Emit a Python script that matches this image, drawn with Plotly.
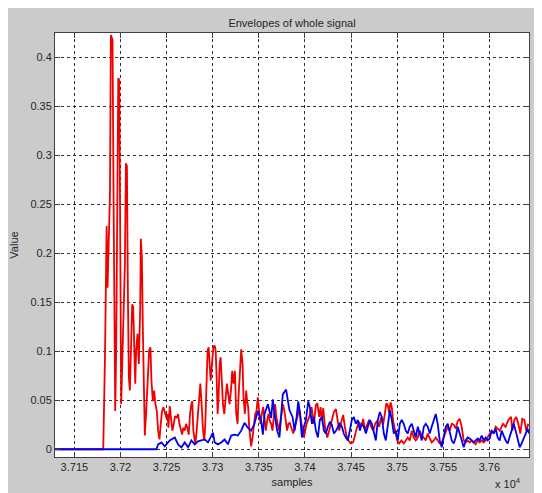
import plotly.graph_objects as go

# ---- data (samples, envelope value) ----
red_x = [37129, 37181.3, 37183.2, 37185.0, 37186.0, 37187.5, 37188.6, 37189.6, 37191.4, 37192.5,
         37193.3, 37194.3, 37195.4, 37196.5, 37197.6, 37198.7, 37199.7, 37200.8, 37201.9, 37203.3,
         37204.8, 37205.9, 37207.0, 37208.0, 37209.1, 37210.2, 37211.3, 37212.7, 37213.8, 37214.9,
         37216.0, 37217.0, 37218.5, 37219.9, 37221.4, 37222.1, 37223.2, 37224.3, 37225.4, 37226.4,
         37227.9, 37229.3, 37231.1, 37232.5, 37233.6, 37235.1, 37236.5, 37237.9, 37239.4, 37240.8,
         37242.3, 37243.7, 37245.1, 37246.6, 37248.0, 37249.8, 37250.9, 37252.0, 37253.4, 37254.9,
         37256.3, 37257.8, 37259.2, 37261.0, 37262.5, 37263.9, 37265.3, 37266.8, 37268.2, 37269.7,
         37271.1, 37272.5, 37274.0, 37275.4, 37276.9, 37277.9, 37279.0, 37280.1, 37281.2, 37282.6,
         37284.1, 37285.5, 37286.6, 37288.0, 37289.5, 37290.9, 37292.0, 37293.4, 37294.5, 37295.6,
         37296.7, 37297.8, 37299.2, 37300.7, 37302.1, 37303.2, 37304.3, 37305.3, 37306.4, 37307.5,
         37308.6, 37309.7, 37311.1, 37312.6, 37314.0, 37315.4, 37316.9, 37318.3, 37319.8, 37321.2,
         37322.6, 37324.1, 37325.5, 37327.0, 37328.0, 37329.5, 37330.9, 37332.4, 37333.4, 37334.9,
         37336.3, 37337.4, 37338.5, 37339.6, 37340.7, 37341.7, 37343.2, 37344.6, 37346.1, 37347.5,
         37348.9, 37350.4, 37351.8, 37353.3, 37354.7, 37356.2, 37357.6, 37359.0, 37360.5, 37361.9,
         37363.4, 37364.8, 37366.3, 37367.7, 37369.1, 37370.6, 37372.0, 37373.5, 37374.9, 37376.3,
         37377.8, 37379.2, 37380.7, 37382.1, 37383.6, 37387.4, 37391.0, 37393.9, 37396.4, 37398.9,
         37401.8, 37404.7, 37407.2, 37409.7, 37411.9, 37413.4, 37415.5, 37417.0, 37418.4, 37419.9,
         37421.7, 37424.2, 37426.3, 37428.9, 37431.4, 37433.6, 37435.4, 37437.2, 37439.7, 37441.5,
         37443.3, 37445.1, 37447.3, 37449.5, 37452.3, 37454.5, 37456.7, 37458.8, 37461.0, 37463.2,
         37465.3, 37467.5, 37469.7, 37471.8, 37474.0, 37476.2, 37478.3, 37480.5, 37482.7, 37484.8,
         37487.0, 37488.4, 37489.9, 37491.3, 37492.8, 37494.2, 37495.7, 37497.8, 37500.0, 37502.2,
         37504.7, 37507.2, 37509.4, 37511.5, 37513.7, 37515.9, 37518.0, 37520.2, 37522.4, 37524.5,
         37526.7, 37528.9, 37531.0, 37533.2, 37535.4, 37537.5, 37539.7, 37541.9, 37544.0, 37546.2,
         37548.4, 37550.5, 37552.7, 37554.9, 37557.0, 37559.2, 37561.4, 37563.5, 37565.7, 37567.9,
         37570.0, 37572.2, 37574.4, 37576.5, 37578.7, 37580.9, 37583.0, 37585.2, 37587.4, 37589.5,
         37591.7, 37593.9, 37596.0, 37598.2, 37600.4, 37602.5, 37604.7, 37606.9, 37609.0, 37611.2,
         37614.8, 37617.7, 37620.6, 37623.5, 37624.9, 37627.1, 37629.2, 37631.4, 37633.6, 37635.7,
         37637.9, 37640.1, 37642.2]
red_y = [0, 0, 0.094, 0.228, 0.165, 0.228, 0.261, 0.423, 0.418, 0.258,
         0.118, 0.039, 0.104, 0.261, 0.379, 0.377, 0.224, 0.046, 0.087, 0.128,
         0.19, 0.292, 0.289, 0.162, 0.073, 0.06, 0.104, 0.148, 0.145, 0.087,
         0.067, 0.101, 0.118, 0.087, 0.145, 0.215, 0.196, 0.121, 0.053, 0.014,
         0.039, 0.067, 0.101, 0.104, 0.07, 0.049, 0.06, 0.046, 0.039, 0.019,
         0.01, 0.026, 0.039, 0.043, 0.039, 0.032, 0.036, 0.022, 0.044, 0.032,
         0.019, 0.026, 0.034, 0.032, 0.036, 0.026, 0.019, 0.015, 0.022, 0.019,
         0.026, 0.022, 0.015, 0.036, 0.046, 0.049, 0.019, 0.009, 0.005, 0.019,
         0.036, 0.056, 0.067, 0.046, 0.019, 0.009, 0.026, 0.07, 0.101, 0.104,
         0.087, 0.07, 0.087, 0.104, 0.106, 0.101, 0.073, 0.036, 0.053, 0.087,
         0.094, 0.067, 0.046, 0.036, 0.049, 0.067, 0.056, 0.046, 0.06, 0.08,
         0.067, 0.08, 0.036, 0.026, 0.053, 0.087, 0.102, 0.087, 0.053, 0.036,
         0.06, 0.049, 0.043, 0.022, 0.009, 0.003, 0.012, 0.026, 0.036, 0.039,
         0.053, 0.039, 0.026, 0.036, 0.043, 0.032, 0.019, 0.029, 0.036, 0.029,
         0.026, 0.019, 0.036, 0.046, 0.032, 0.026, 0.019, 0.029, 0.039, 0.046,
         0.039, 0.026, 0.019, 0.026, 0.027, 0.016, 0.03, 0.041, 0.026, 0.012,
         0.026, 0.033, 0.043, 0.026, 0.045, 0.047, 0.033, 0.043, 0.029, 0.042,
         0.023, 0.012, 0.019, 0.029, 0.038, 0.041, 0.029, 0.019, 0.029, 0.035,
         0.023, 0.014, 0.009, 0.006, 0.007, 0.016, 0.023, 0.028, 0.023, 0.031,
         0.019, 0.025, 0.030, 0.023, 0.019, 0.026, 0.029, 0.023, 0.033, 0.025,
         0.038, 0.047, 0.045, 0.037, 0.048, 0.043, 0.029, 0.019, 0.009, 0.006,
         0.009, 0.006, 0.009, 0.012, 0.009, 0.019, 0.012, 0.009, 0.012, 0.019,
         0.014, 0.012, 0.009, 0.016, 0.011, 0.007, 0.009, 0.012, 0.009, 0.006,
         0.007, 0.012, 0.018, 0.023, 0.019, 0.026, 0.025, 0.021, 0.029, 0.031,
         0.023, 0.009, 0.007, 0.009, 0.007, 0.009, 0.007, 0.005, 0.009, 0.007,
         0.009, 0.007, 0.009, 0.012, 0.016, 0.019, 0.016, 0.023, 0.021, 0.019,
         0.026, 0.023, 0.030, 0.033, 0.019, 0.030, 0.033, 0.026, 0.016, 0.031,
         0.030, 0.019, 0.026]

blue_x = [37129, 37239.0, 37240.8, 37244.4, 37248.0, 37253.4, 37258.9, 37262.5, 37266.1, 37269.7,
          37273.3, 37276.9, 37280.5, 37284.1, 37287.7, 37291.3, 37294.9, 37298.5, 37300.3, 37302.1,
          37305.7, 37309.3, 37312.9, 37316.5, 37320.1, 37323.7, 37327.3, 37330.9, 37334.5, 37338.1,
          37341.7, 37345.3, 37348.9, 37352.6, 37354.4, 37356.2, 37359.8, 37363.4, 37365.2, 37367.0,
          37369.9, 37372.4, 37374.2, 37376.0, 37379.6, 37383.2, 37386.6, 37388.8, 37391.0, 37392.8,
          37394.6, 37396.7, 37398.9, 37401.1, 37403.6, 37405.4, 37407.6, 37409.7, 37411.9, 37414.1,
          37416.2, 37418.4, 37420.6, 37422.7, 37424.9, 37427.1, 37429.2, 37431.4, 37433.6, 37435.7,
          37437.9, 37440.1, 37442.2, 37444.4, 37446.6, 37448.7, 37450.9, 37453.1, 37455.2, 37457.4,
          37459.6, 37461.7, 37463.9, 37466.1, 37468.2, 37470.4, 37472.6, 37474.7, 37476.9, 37479.1,
          37481.2, 37483.4, 37485.6, 37487.7, 37489.9, 37492.1, 37494.2, 37496.4, 37498.6, 37500.7,
          37502.9, 37505.0, 37507.2, 37509.4, 37511.5, 37513.7, 37515.9, 37518.0, 37520.2, 37522.4,
          37524.5, 37526.7, 37528.9, 37531.0, 37533.2, 37535.4, 37537.5, 37539.7, 37541.9, 37544.0,
          37546.2, 37548.4, 37550.5, 37552.7, 37554.9, 37557.0, 37559.2, 37561.4, 37563.5, 37565.7,
          37567.9, 37570.0, 37572.2, 37574.4, 37576.5, 37578.7, 37580.9, 37583.0, 37585.2, 37587.4,
          37589.5, 37591.7, 37593.9, 37596.0, 37598.2, 37600.4, 37602.5, 37604.7, 37606.9, 37609.0,
          37611.2, 37613.4, 37615.5, 37617.7, 37619.9, 37622.0, 37624.2, 37626.4, 37628.5, 37630.7,
          37632.9, 37635.0, 37637.2, 37639.4, 37641.5, 37643.0]
blue_y = [0, 0, 0.005, 0.007, 0.003, 0.009, 0.012, 0.005, 0.002, 0.007,
          0.002, 0.009, 0.005, 0.008, 0.009, 0.010, 0.007, 0.014, 0.017, 0.007,
          0.005, 0.007, 0.010, 0.005, 0.014, 0.015, 0.014, 0.019, 0.027, 0.022,
          0.019, 0.026, 0.039, 0.029, 0.015, 0.036, 0.046, 0.032, 0.051, 0.036,
          0.019, 0.012, 0.036, 0.056, 0.061, 0.040, 0.033, 0.019, 0.033, 0.049,
          0.037, 0.012, 0.023, 0.030, 0.049, 0.043, 0.026, 0.033, 0.019, 0.012,
          0.030, 0.033, 0.019, 0.016, 0.023, 0.028, 0.025, 0.016, 0.019, 0.023,
          0.026, 0.023, 0.016, 0.012, 0.009, 0.019, 0.030, 0.033, 0.026, 0.030,
          0.019, 0.026, 0.023, 0.016, 0.023, 0.030, 0.026, 0.019, 0.009, 0.030,
          0.038, 0.033, 0.016, 0.009, 0.026, 0.040, 0.030, 0.016, 0.019, 0.009,
          0.026, 0.030, 0.026, 0.019, 0.016, 0.023, 0.026, 0.019, 0.012, 0.023,
          0.016, 0.009, 0.023, 0.026, 0.023, 0.016, 0.023, 0.031, 0.036, 0.026,
          0.009, 0.002, 0.012, 0.023, 0.026, 0.019, 0.009, 0.006, 0.012, 0.023,
          0.016, 0.009, 0.002, 0.009, 0.012, 0.011, 0.009, 0.007, 0.009, 0.011,
          0.009, 0.014, 0.009, 0.012, 0.009, 0.011, 0.019, 0.016, 0.021, 0.012,
          0.009, 0.019, 0.014, 0.009, 0.006, 0.012, 0.019, 0.026, 0.019, 0.009,
          0.002, 0.006, 0.012, 0.016, 0.021, 0.016]

x_tick_vals = [37150, 37200, 37250, 37300, 37350, 37400, 37450, 37500, 37550, 37600]
x_tick_text = ["3.715", "3.72", "3.725", "3.73", "3.735", "3.74", "3.745", "3.75", "3.755", "3.76"]
y_tick_vals = [0, 0.05, 0.1, 0.15, 0.2, 0.25, 0.3, 0.35, 0.4]
y_tick_text = ["0", "0.05", "0.1", "0.15", "0.2", "0.25", "0.3", "0.35", "0.4"]

FONT = "Liberation Sans, Arial, sans-serif"
TXT = "#262626"

fig = go.Figure()
fig.add_trace(go.Scatter(x=red_x, y=red_y, mode="lines",
                         line=dict(color="#f00000", width=1.8), showlegend=False))
fig.add_trace(go.Scatter(x=blue_x, y=blue_y, mode="lines",
                         line=dict(color="#0000f0", width=1.8), showlegend=False))

axis_common = dict(showgrid=True, gridcolor="#303030", griddash="dot", gridwidth=1,
                   zeroline=False, showline=True, linecolor="#404040", linewidth=1,
                   mirror="ticks", ticks="inside", ticklen=5, tickcolor="#404040",
                   automargin=False,
                   tickfont=dict(family=FONT, size=11, color=TXT))

fig.update_xaxes(range=[37129, 37643], tickmode="array", tickvals=x_tick_vals,
                 ticktext=x_tick_text, title=dict(text="samples", standoff=6,
                 font=dict(family=FONT, size=11, color=TXT)), **axis_common)
fig.update_yaxes(range=[-0.0079, 0.425], tickmode="array", tickvals=y_tick_vals,
                 ticktext=y_tick_text, title=dict(text="Value", standoff=10,
                 font=dict(family=FONT, size=11, color=TXT)), **axis_common)

fig.update_layout(
    width=526, height=485,
    margin=dict(l=47, r=5, t=25, b=36),
    paper_bgcolor="#cbcbcb", plot_bgcolor="white",
    title=dict(text="Envelopes of whole signal", x=0.5, xref="paper", xanchor="center",
               y=1, yref="paper", yanchor="bottom", pad=dict(b=6),
               font=dict(family=FONT, size=11, color=TXT)),
    annotations=[dict(text="x 10<sup>4</sup>", xref="paper", yref="paper",
                      x=0.987, y=-0.083, xanchor="right", yanchor="bottom", showarrow=False,
                      font=dict(family=FONT, size=11, color=TXT))],
)

fig.write_html("out.html")
